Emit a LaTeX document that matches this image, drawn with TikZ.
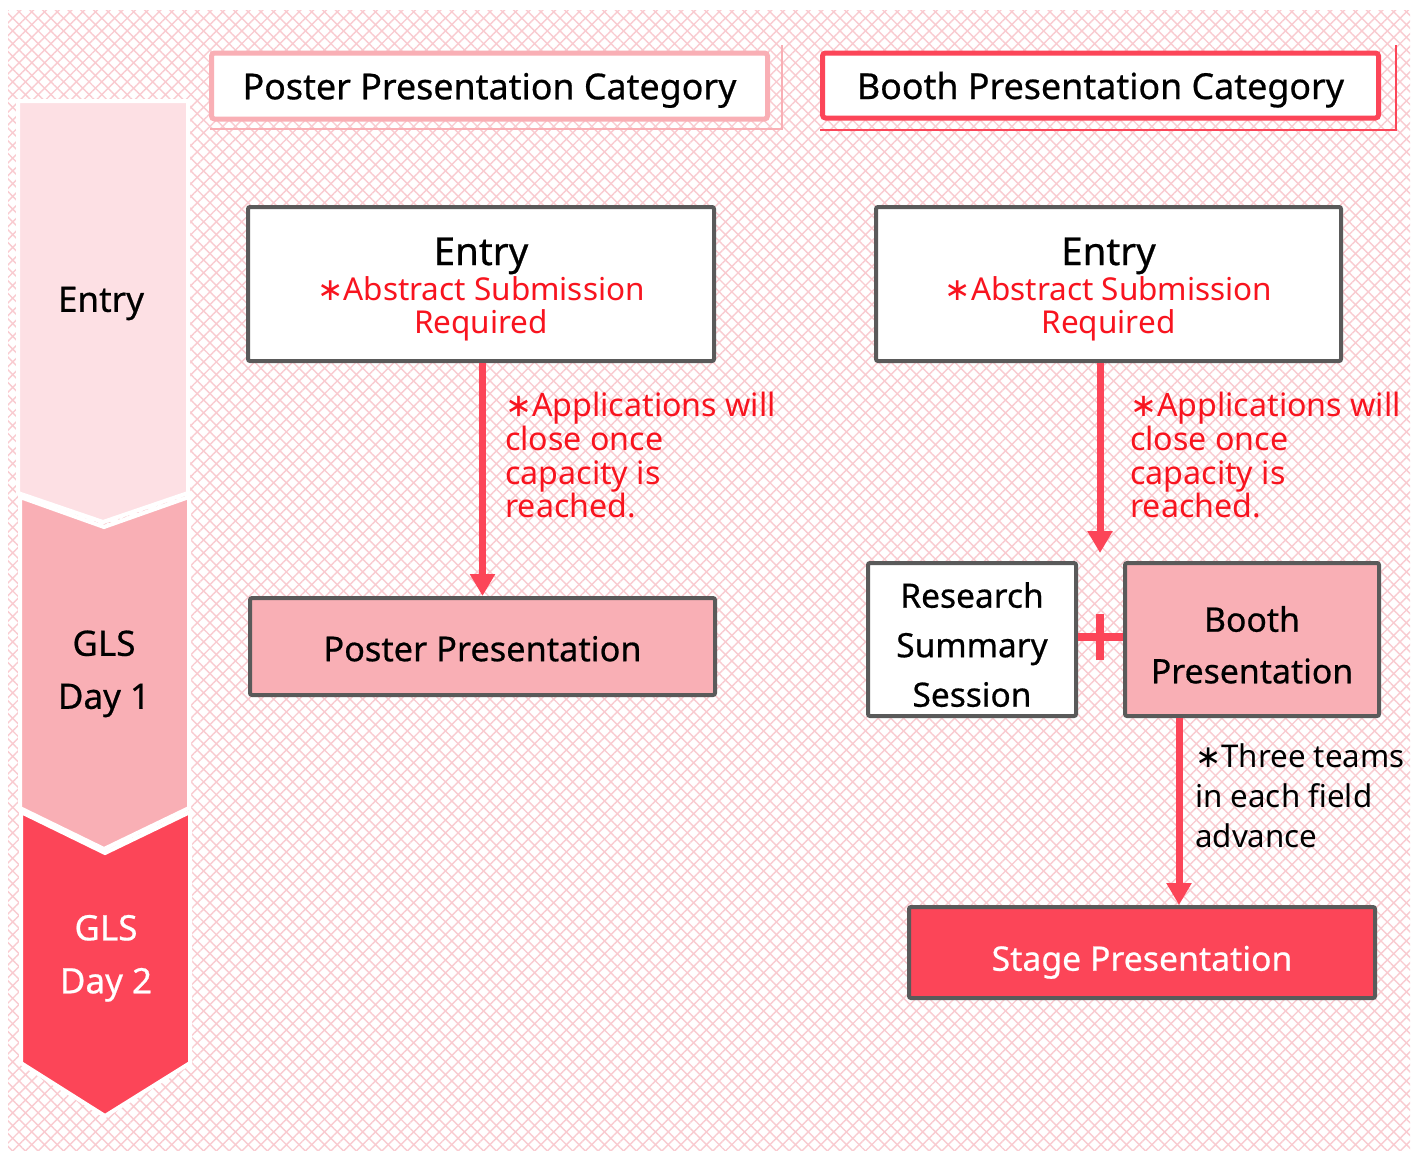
\documentclass[tikz,border=0pt]{standalone}
\usepackage{fontspec}
\setmainfont{Noto Sans}
\newfontfamily\medf{Noto Sans}[FakeBold=0.6]
\newfontfamily\symf{DejaVu Sans}
\usetikzlibrary{arrows.meta,patterns.meta}
\definecolor{lpink}{HTML}{FDE0E4}
\definecolor{mpink}{HTML}{F9AFB5}
\definecolor{cred}{HTML}{FC4558}
\definecolor{tred}{HTML}{F8141F}
\definecolor{bgray}{HTML}{5A5A5A}
\definecolor{hatch}{HTML}{F9CBD0}
\newcommand{\mystar}{{\symf ∗}}
\tikzset{
  hdr/.style={draw, line width=5pt, fill=white, rounded corners=3pt, inner sep=0pt, text depth=0pt, font=\medf\fontsize{35.8}{38}\selectfont},
  box/.style={draw=bgray, line width=4pt, rounded corners=2pt, inner sep=0pt, align=center, text depth=0pt},
  chev/.style={draw=white, line width=4pt, line join=miter},
  arr/.style={draw=cred, line width=7pt, -{Triangle[width=24pt,length=22pt]}},
  note/.style={anchor=south west, align=left, inner sep=0pt, text depth=0pt, font=\fontsize{32.2}{33.7}\selectfont},
  chevtext/.style={anchor=south, align=center, inner sep=0pt, text depth=0pt, font=\medf\fontsize{35}{53}\selectfont},
}
\begin{document}
\begin{tikzpicture}[x=1pt,y=-1pt]
\useasboundingbox (0,0) rectangle (1418,1151);
\fill[white] (0,0) rectangle (1418,1151);
\fill[pattern={Lines[angle=45,distance=9pt,line width=1.4pt]},pattern color=hatch] (8,10) rectangle (1410,1150);
\fill[pattern={Lines[angle=-45,distance=9pt,line width=1.4pt]},pattern color=hatch] (8,10) rectangle (1410,1150);

% left chevrons
\filldraw[chev, fill=cred] (21,812) -- (105,853) -- (190,812) -- (190,1063) -- (105,1116) -- (21,1063) -- cycle;
\filldraw[chev, fill=mpink] (20,497) -- (104,527) -- (189,497) -- (189,808) -- (104,849) -- (20,808) -- cycle;
\filldraw[chev, fill=lpink] (18,101) -- (188,101) -- (188,493) -- (103,522) -- (18,493) -- cycle;
\node[chevtext] (c1) at (101,312) {Entry};
\node[chevtext] (c2) at (104,709) {GLS\\Day 1};
\node[chevtext, text=white] (c3) at (106,993.5) {GLS\\Day 2};

% headers
\draw[mpink, line width=2pt] (210,129) -- (782,129) -- (782,45);
\draw[cred, line width=2pt] (820,130) -- (1396,130) -- (1396,45);
\node[hdr, draw=mpink, minimum width=556pt, minimum height=66pt, text height=26.6pt] (hp) at (489.5,86) {Poster Presentation Category};
\node[hdr, draw=cred, minimum width=556pt, minimum height=65pt, text height=27pt] (hb) at (1100.5,85.5) {Booth Presentation Category};

% entry boxes
\node[box, fill=white, minimum width=466pt, minimum height=154pt, text height=98.6pt, font=\fontsize{31.5}{33.3}\selectfont] (el) at (481,284)
  {{\medf\fontsize{38.5}{38}\selectfont Entry}\\[1.7pt]\textcolor{tred}{\mystar Abstract Submission}\\\textcolor{tred}{Required}};
\node[box, fill=white, minimum width=465pt, minimum height=154pt, text height=98.6pt, font=\fontsize{31.5}{33.3}\selectfont] (er) at (1108.5,284)
  {{\medf\fontsize{38.5}{38}\selectfont Entry}\\[1.7pt]\textcolor{tred}{\mystar Abstract Submission}\\\textcolor{tred}{Required}};

% lower boxes
\node[box, fill=mpink, minimum width=465pt, minimum height=97pt, text height=29.4pt, font=\medf\fontsize{34.3}{38}\selectfont] (pp) at (482.5,646.5) {Poster Presentation};
\node[box, fill=white, minimum width=208pt, minimum height=153pt, text height=134.4pt, font=\medf\fontsize{33.5}{49.5}\selectfont] (rs) at (972,639.5) {Research\\Summary\\Session};
\node[box, fill=mpink, minimum width=254pt, minimum height=153pt, text height=87.6pt, font=\medf\fontsize{33.8}{51.6}\selectfont] (bp) at (1252,639.5) {Booth\\Presentation};
\node[box, fill=cred, text=white, minimum width=466pt, minimum height=91pt, text height=36.4pt, font=\medf\fontsize{33.8}{38}\selectfont] (st) at (1142,952.5) {Stage Presentation};

% arrows
\coordinate (rtip) at (1100,553);
\coordinate (bx) at (1179,0);
\draw[arr] (el.south -| pp.north) -- (pp.north);
\draw[arr] (er.south -| rtip) -- (rtip);
\draw[arr] (bp.south -| bx) -- (st.north -| bx);

% plus
\coordinate (plus) at (1100,637);
\draw[cred, line width=8.5pt] (rs.east |- plus) -- (bp.west |- plus);
\draw[cred, line width=8.5pt] ([yshift=-23pt]plus) -- ([yshift=23pt]plus);

% notes
\node[note, text=tred] (n1) at (505,518) {\mystar Applications will\\close once\\capacity is\\reached.};
\node[note, text=tred] (n2) at (1130,518) {\mystar Applications will\\close once\\capacity is\\reached.};
\node[note, text=black, font=\fontsize{31.3}{40}\selectfont] (n3) at (1195,848) {\mystar Three teams\\in each field\\advance};
\end{tikzpicture}
\end{document}
